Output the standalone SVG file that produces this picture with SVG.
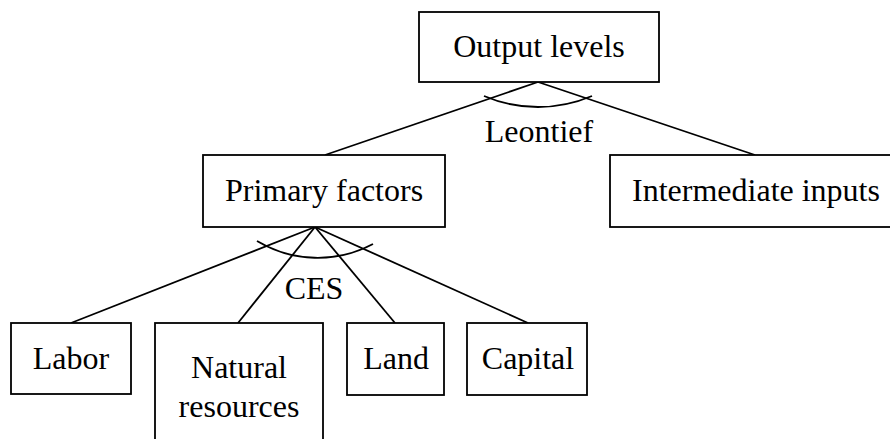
<svg xmlns="http://www.w3.org/2000/svg" width="890" height="439" viewBox="0 0 890 439">
<style>
.box{fill:#fff;stroke:#000;stroke-width:1.8}
.ln{fill:none;stroke:#000;stroke-width:1.8}
text{font-family:"Liberation Serif","Times New Roman",serif;font-size:32px;fill:#000;text-anchor:middle}
</style>
<rect width="890" height="439" fill="#fff"/>
<g id="connectors">
<line class="ln" x1="538" y1="82" x2="325" y2="155"/>
<line class="ln" x1="538" y1="82" x2="755" y2="155"/>
<path class="ln" d="M484 96 A138 138 0 0 0 592 96"/>
<line class="ln" x1="315" y1="227" x2="71" y2="323"/>
<line class="ln" x1="315" y1="227" x2="238" y2="323"/>
<line class="ln" x1="315" y1="227" x2="395" y2="323"/>
<line class="ln" x1="315" y1="227" x2="528" y2="323"/>
<path class="ln" d="M257 241 A118 118 0 0 0 373 244"/>
<text x="539" y="142">Leontief</text>
<text x="314" y="299">CES</text>
</g>
<g id="output-levels">
<rect class="box" x="419" y="12" width="240" height="70"/>
<text x="539" y="57">Output levels</text>
</g>
<g id="primary-factors">
<rect class="box" x="203" y="155" width="242" height="72"/>
<text x="324" y="201">Primary factors</text>
</g>
<g id="intermediate-inputs">
<rect class="box" x="610" y="155" width="290" height="72"/>
<text x="756" y="201">Intermediate inputs</text>
</g>
<g id="labor">
<rect class="box" x="11" y="323" width="120" height="71"/>
<text x="71" y="369">Labor</text>
</g>
<g id="natural-resources">
<rect class="box" x="155" y="323" width="168" height="130"/>
<text x="239" y="378">Natural</text>
<text x="239" y="417">resources</text>
</g>
<g id="land">
<rect class="box" x="347" y="323" width="97" height="72"/>
<text x="396" y="369">Land</text>
</g>
<g id="capital">
<rect class="box" x="467" y="323" width="120" height="72"/>
<text x="528" y="369">Capital</text>
</g>
</svg>
